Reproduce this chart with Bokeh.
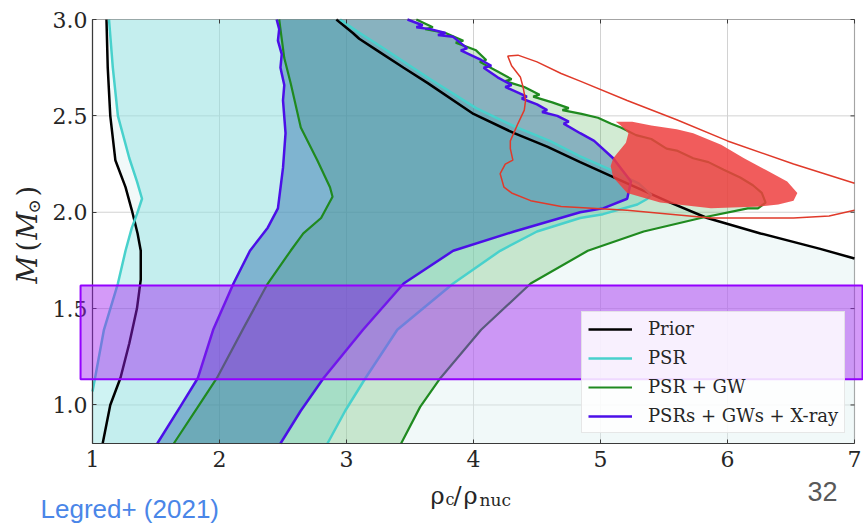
import numpy as np
from bokeh.plotting import figure
from bokeh.models import (Range1d, FixedTicker, Legend, LegendItem, BoxAnnotation, Label)
from bokeh.embed import file_html
from bokeh.resources import INLINE

# ---------------------------------------------------------------- axes
RHO_MIN, RHO_MAX = 1.0, 7.0
M_MIN, M_MAX = 0.8, 3.0
x_ticks = [1, 2, 3, 4, 5, 6, 7]
y_ticks = [1.0, 1.5, 2.0, 2.5, 3.0]
y_tick_labels = ["1.0", "1.5", "2.0", "2.5", "3.0"]

# ---------------------------------------------------------------- Prior (black)
prior_left_rho = [1.08, 1.11, 1.14, 1.18, 1.22, 1.29, 1.35, 1.38, 1.38, 1.355, 1.31, 1.26, 1.18, 1.14, 1.12, 1.11]
prior_left_m = [0.80, 0.90, 1.00, 1.07, 1.14, 1.32, 1.50, 1.65, 1.80, 1.89, 2.01, 2.13, 2.27, 2.50, 2.75, 3.00]
prior_upper_rho = [2.92, 3.05, 3.10, 3.24, 3.45, 3.64, 4.00, 4.32, 4.58, 4.84, 5.21, 5.55, 5.84, 6.26, 6.73, 7.00]
prior_upper_m = [3.00, 2.93, 2.90, 2.84, 2.75, 2.67, 2.51, 2.41, 2.34, 2.26, 2.15, 2.05, 1.97, 1.89, 1.81, 1.76]

# ---------------------------------------------------------------- PSR (turquoise)
psr_left_rho = [1.00, 1.02, 1.09, 1.20, 1.26, 1.31, 1.35, 1.39, 1.35, 1.29, 1.20, 1.16, 1.13]
psr_left_m = [1.07, 1.14, 1.39, 1.63, 1.80, 1.92, 1.99, 2.07, 2.16, 2.28, 2.50, 2.75, 3.00]
psr_upper_rho = [2.95, 3.08, 3.27, 3.66, 4.02, 4.34, 4.60, 4.84, 5.08, 5.30, 5.40]
psr_upper_m = [3.00, 2.94, 2.86, 2.69, 2.54, 2.44, 2.37, 2.29, 2.22, 2.15, 2.09]
psr_lower_rho = [5.37, 5.29, 5.02, 4.84, 4.50, 4.21, 3.84, 3.40, 3.15, 2.99, 2.85]
psr_lower_m = [2.07, 2.04, 1.99, 1.97, 1.90, 1.80, 1.63, 1.39, 1.14, 0.97, 0.80]

# ---------------------------------------------------------------- PSR + GW (green)
gw_left_rho = [1.64, 1.83, 1.98, 2.19, 2.38, 2.56, 2.66, 2.80, 2.89, 2.87, 2.77, 2.64, 2.56, 2.51, 2.49, 2.47]
gw_left_m = [0.80, 0.99, 1.14, 1.40, 1.63, 1.80, 1.89, 1.97, 2.08, 2.13, 2.27, 2.44, 2.67, 2.80, 2.90, 3.00]
gw_upper_rho = [3.55, 3.68, 3.62, 3.78, 3.92, 3.86, 4.02, 4.10, 4.05, 4.19, 4.30, 4.25, 4.40, 4.52,
                4.47, 4.62, 4.75, 4.70, 4.85, 4.98, 5.08, 5.16]
gw_upper_m = [3.00, 2.96, 2.95, 2.93, 2.89, 2.88, 2.84, 2.79, 2.78, 2.73, 2.69, 2.68, 2.65, 2.61,
              2.60, 2.57, 2.54, 2.53, 2.51, 2.49, 2.46, 2.44]
gw_tip_rho = [5.28, 5.40, 5.52, 5.60, 5.73, 5.85, 5.97, 6.10, 6.20, 6.27, 6.30, 6.24]
gw_tip_m = [2.40, 2.38, 2.33, 2.32, 2.28, 2.26, 2.22, 2.18, 2.14, 2.10, 2.05, 2.02]
gw_lower_rho = [6.16, 5.79, 5.34, 4.90, 4.45, 4.06, 3.74, 3.58, 3.43]
gw_lower_m = [2.02, 1.97, 1.90, 1.80, 1.63, 1.39, 1.14, 0.99, 0.80]

# ---------------------------------------------------------------- PSRs + GWs + X-ray (violet)
xr_left_rho = [1.51, 1.69, 1.83, 1.95, 2.11, 2.24, 2.38, 2.46, 2.50, 2.52, 2.50, 2.51, 2.48, 2.49, 2.46, 2.47, 2.45]
xr_left_m = [0.80, 0.99, 1.14, 1.39, 1.63, 1.80, 1.92, 2.02, 2.23, 2.41, 2.58, 2.66, 2.75, 2.82, 2.89, 2.95, 3.00]
xr_upper_rho = [3.48, 3.60, 3.55, 3.66, 3.78, 3.72, 3.84, 3.95, 3.90, 4.06, 4.14, 4.08, 4.19, 4.30,
                4.25, 4.32, 4.42, 4.38, 4.50, 4.58, 4.54, 4.66, 4.75, 4.71, 4.84]
xr_upper_m = [3.00, 2.97, 2.96, 2.95, 2.93, 2.92, 2.91, 2.85, 2.84, 2.79, 2.76, 2.75, 2.70, 2.66,
              2.65, 2.63, 2.60, 2.59, 2.56, 2.53, 2.52, 2.50, 2.47, 2.46, 2.41]
xr_tip_rho = [4.95, 5.10, 5.24, 5.21, 5.02]
xr_tip_m = [2.37, 2.28, 2.16, 2.07, 2.02]
xr_lower_rho = [4.84, 4.32, 3.84, 3.45, 3.13, 2.82, 2.64, 2.48]
xr_lower_m = [2.00, 1.90, 1.80, 1.63, 1.39, 1.14, 0.97, 0.80]

# ---------------------------------------------------------------- red constraint
red_blob_rho = [5.12, 5.25, 5.40, 5.60, 5.73, 5.95, 6.13, 6.30, 6.47, 6.55, 6.52, 6.40, 6.26, 5.87,
                5.47, 5.21, 5.10, 5.08, 5.10, 5.20, 5.22, 5.16]
red_blob_m = [2.47, 2.47, 2.45, 2.43, 2.41, 2.35, 2.28, 2.22, 2.16, 2.10, 2.06, 2.04, 2.03, 2.02,
              2.05, 2.10, 2.18, 2.24, 2.28, 2.36, 2.41, 2.45]
# outer contour, open where it leaves the plotted range at rho = 7
red_contour_rho = [7.00, 6.80, 6.52, 5.87, 5.21, 4.69, 4.45, 4.30, 4.24, 4.21, 4.25, 4.31, 4.29, 4.29,
                   4.33, 4.35, 4.40, 4.41, 4.39, 4.37, 4.30, 4.27, 4.35, 4.50, 4.69, 4.84, 5.21, 5.60,
                   6.00, 6.52, 7.00]
red_contour_m = [2.01, 1.98, 1.97, 1.97, 2.01, 2.03, 2.06, 2.10, 2.13, 2.20, 2.25, 2.27, 2.33, 2.37,
                 2.43, 2.46, 2.53, 2.58, 2.65, 2.70, 2.76, 2.81, 2.815, 2.78, 2.72, 2.68, 2.58, 2.48,
                 2.37, 2.25, 2.15]

# highlighted mass band
band_m_low, band_m_high = 1.133, 1.62
band_rho_left, band_rho_right = 0.906, 7.063

legend_labels = ["Prior", "PSR", "PSR + GW", "PSRs + GWs + X-ray"]

# ---------------------------------------------------------------- page geometry
W, H = 863, 524
BOX_LEFT, BOX_RIGHT, BOX_TOP, BOX_BOTTOM = 92, 854, 19, 443   # pixel edges of the data box
PX_PER_RHO = (BOX_RIGHT - BOX_LEFT) / (RHO_MAX - RHO_MIN)
PX_PER_M = (BOX_BOTTOM - BOX_TOP) / (M_MAX - M_MIN)

# the frame spans the whole page; the data box sits inside it
x_range = Range1d(RHO_MIN - BOX_LEFT / PX_PER_RHO, RHO_MAX + (W - BOX_RIGHT) / PX_PER_RHO)
y_range = Range1d(M_MIN - (H - BOX_BOTTOM) / PX_PER_M, M_MAX + BOX_TOP / PX_PER_M)

p = figure(width=W, height=H, output_backend="svg", toolbar_location=None,
           x_range=x_range, y_range=y_range,
           min_border_left=0, min_border_right=0, min_border_top=0, min_border_bottom=0)
p.outline_line_color = None
p.background_fill_color = "white"
p.border_fill_color = "white"
p.grid.visible = False

SERIF = "DejaVu Serif"
FRAME_COLOR = "#3a3a3a"
p.xaxis.fixed_location = M_MIN
p.xaxis.bounds = (RHO_MIN, RHO_MAX)
p.yaxis.fixed_location = RHO_MIN
p.yaxis.bounds = (M_MIN, M_MAX)
for ax in (p.xaxis[0], p.yaxis[0]):
    ax.major_tick_in = 4
    ax.major_tick_out = 0
    ax.minor_tick_line_color = None
    ax.axis_line_color = FRAME_COLOR
    ax.axis_line_width = 1.2
    ax.major_tick_line_color = FRAME_COLOR
    ax.major_label_text_font = SERIF
    ax.major_label_text_font_size = "22px"
    ax.major_label_text_color = "#262626"
p.xaxis.ticker = FixedTicker(ticks=x_ticks)
p.yaxis.ticker = FixedTicker(ticks=y_ticks)
p.yaxis.major_label_overrides = {t: s for t, s in zip(y_ticks, y_tick_labels)}
p.xaxis.major_label_standoff = 7
p.yaxis.major_label_standoff = 5

# grid lines at the tick positions, inside the data box
p.segment(x0=x_ticks, y0=[M_MIN] * len(x_ticks), x1=x_ticks, y1=[M_MAX] * len(x_ticks),
          line_color="#d2d2d2", line_width=1, level="underlay")
p.segment(x0=[RHO_MIN] * len(y_ticks), y0=y_ticks, x1=[RHO_MAX] * len(y_ticks), y1=y_ticks,
          line_color="#d2d2d2", line_width=1, level="underlay")


def poly(*parts):
    xs = np.concatenate([np.asarray(a[0], float) for a in parts])
    ys = np.concatenate([np.asarray(a[1], float) for a in parts])
    return xs, ys


# ---- filled credible regions
prior_x, prior_y = poly((prior_left_rho, prior_left_m), (prior_upper_rho, prior_upper_m),
                        ([RHO_MAX], [M_MIN]))
psr_x, psr_y = poly((psr_left_rho, psr_left_m), (psr_upper_rho, psr_upper_m),
                    (psr_lower_rho, psr_lower_m), ([RHO_MIN, RHO_MIN], [M_MIN, psr_left_m[0]]))
gw_x, gw_y = poly((gw_left_rho, gw_left_m), (gw_upper_rho, gw_upper_m),
                  (gw_tip_rho, gw_tip_m), (gw_lower_rho, gw_lower_m))
xr_x, xr_y = poly((xr_left_rho, xr_left_m), (xr_upper_rho, xr_upper_m),
                  (xr_tip_rho, xr_tip_m), (xr_lower_rho, xr_lower_m))

p.patch(prior_x, prior_y, fill_color="#dcf0f0", fill_alpha=0.4, line_color=None)
p.patch(psr_x, psr_y, fill_color="#40d0d0", fill_alpha=0.25, line_color=None)
p.patch(gw_x, gw_y, fill_color="#4caf50", fill_alpha=0.25, line_color=None)
p.patch(xr_x, xr_y, fill_color="#1a5da3", fill_alpha=0.4, line_color=None)

# ---- boundaries
C_PRIOR, C_PSR, C_GW, C_XR = "#000000", "#48d1cc", "#1f8a1f", "#4b0fe8"
r_prior = p.line(prior_left_rho, prior_left_m, line_color=C_PRIOR, line_width=2.5)
p.line(prior_upper_rho, prior_upper_m, line_color=C_PRIOR, line_width=2.5)

r_psr = p.line(psr_left_rho, psr_left_m, line_color=C_PSR, line_width=2.5)
sx, sy = poly((psr_upper_rho, psr_upper_m), (psr_lower_rho, psr_lower_m))
p.line(sx, sy, line_color=C_PSR, line_width=2.5)

r_gw = p.line(gw_left_rho, gw_left_m, line_color=C_GW, line_width=2.2)
sx, sy = poly((gw_upper_rho, gw_upper_m), (gw_tip_rho, gw_tip_m), (gw_lower_rho, gw_lower_m))
p.line(sx, sy, line_color=C_GW, line_width=2.2)

r_xr = p.line(xr_left_rho, xr_left_m, line_color=C_XR, line_width=2.5)
sx, sy = poly((xr_upper_rho, xr_upper_m), (xr_tip_rho, xr_tip_m), (xr_lower_rho, xr_lower_m))
p.line(sx, sy, line_color=C_XR, line_width=2.5)

# ---- red constraint: filled core and outer contour
p.patch(red_blob_rho, red_blob_m, fill_color="#ef4040", fill_alpha=0.85, line_color=None)
p.line(red_contour_rho, red_contour_m, line_color="#e03a2a", line_width=1.5)

# ---- box edges and inward ticks on the top and right sides
TICK = 4
p.add_layout(BoxAnnotation(left=RHO_MIN, right=RHO_MAX, bottom=M_MIN, top=M_MAX,
                           fill_color=None, line_color=FRAME_COLOR, line_width=1.2))
p.segment(x0=[RHO_MAX - TICK / PX_PER_RHO] * len(y_ticks), y0=y_ticks,
          x1=[RHO_MAX] * len(y_ticks), y1=y_ticks, line_color=FRAME_COLOR, line_width=1)
p.segment(x0=x_ticks, y0=[M_MAX - TICK / PX_PER_M] * len(x_ticks),
          x1=x_ticks, y1=[M_MAX] * len(x_ticks), line_color=FRAME_COLOR, line_width=1)

# ---- legend (lower right of the data box)
legend = Legend(items=[LegendItem(label=lab, renderers=[r])
                       for lab, r in zip(legend_labels, [r_prior, r_psr, r_gw, r_xr])],
                location=(581, H - 433), orientation="vertical", margin=0, padding=6,
                spacing=8, glyph_width=44, glyph_height=20, label_height=20,
                label_standoff=16, label_text_font=SERIF, label_text_font_size="18px",
                label_text_color="#262626", background_fill_color="white",
                background_fill_alpha=0.85, border_line_color="#cfcfcf",
                border_line_width=1)
p.add_layout(legend, "center")

# ---- highlighted band (drawn over the legend)
band = BoxAnnotation(left=band_rho_left, right=band_rho_right, bottom=band_m_low, top=band_m_high,
                     fill_color="#a020f0", fill_alpha=0.45, line_color="#9400ff",
                     line_width=2, line_alpha=1.0)
p.add_layout(band)


# ---- texts placed by page pixel position
def px_to_data(px, py):
    return RHO_MIN + (px - BOX_LEFT) / PX_PER_RHO, M_MAX - (py - BOX_TOP) / PX_PER_M


def add_text(text, px, py, size, font=SERIF, style="normal", color="#262626", angle=0.0):
    x, y = px_to_data(px, py)
    p.add_layout(Label(x=x, y=y, text=text, text_font=font, text_font_size=f"{size}px",
                       text_font_style=style, text_color=color, angle=angle,
                       text_align="left", text_baseline="alphabetic"))


# x-axis title: rho_c / rho_nuc
add_text("\u03c1", 430, 495, 24)
add_text("c", 445, 499, 16)
add_text("/", 453, 495, 24)
add_text("\u03c1", 463, 495, 24)
add_text("nuc", 479, 499, 17)

# y-axis title: M (M_sun), reading upwards
ROT = np.pi / 2
add_text("M", 27, 283, 27, style="italic", angle=ROT)
add_text("(", 27, 251, 27, angle=ROT)
add_text("M", 27, 239, 27, style="italic", angle=ROT)
add_text("\u2299", 33, 213, 17, angle=ROT)
add_text(")", 27, 196, 27, angle=ROT)

# slide annotations
add_text("Legred+ (2021)", 40, 508, 26, font="Liberation Sans", color="#4a86e8")
add_text("32", 807, 491, 27, font="Liberation Sans", color="#595959")

open("out.html", "w").write(file_html(p, INLINE))
